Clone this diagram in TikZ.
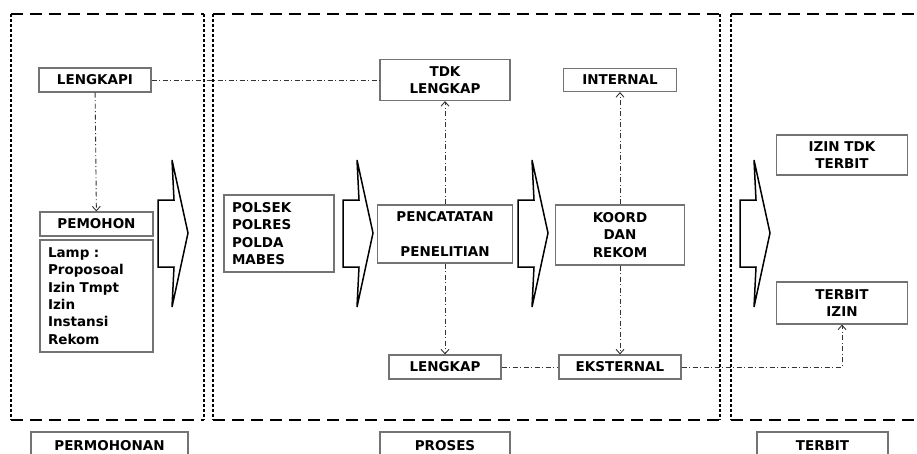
\documentclass[tikz,border=0pt]{standalone}
\usepackage{fontspec}
\setmainfont{DejaVu Sans}
\usetikzlibrary{arrows.meta}

\begin{document}
\begin{tikzpicture}[x=1pt,y=-1pt,
    box/.style={draw=black!55, line width=1.1pt, inner sep=2pt, align=center,
      font=\bfseries\fontsize{13.5}{17.3}\selectfont},
    listbox/.style={box, align=left, inner xsep=8pt},
    flow/.style={draw=black!80, line width=0.9pt, dash pattern=on 5pt off 2.5pt on 1pt off 2.5pt},
    tip/.style={flow, -{Straight Barb[length=4.5pt,width=8pt]}},
    hframe/.style={line width=1.7pt, dash pattern=on 12pt off 7pt},
    vframe/.style={line width=1.7pt, dash pattern=on 3pt off 2pt}]
  \useasboundingbox (0,0) rectangle (917,453);

  % frames
  \draw[hframe] (11,14) -- (204,14)  (11,420) -- (204,420);
  \draw[hframe] (213,14) -- (720,14)  (213,420) -- (720,420);
  \draw[hframe] (731,14) -- (925,14)  (731,420) -- (925,420);
  \foreach \x in {11,204,213,720,731}
    \draw[vframe] (\x,14) -- (\x,420);

  % block arrows
  \foreach \x in {158,343,518,740}
    \draw[line width=1.5pt, line join=miter]
      (\x,200) -- (\x+16,200) -- (\x+14,160) -- (\x+30,233) -- (\x+14,307)
      -- (\x+16,267) -- (\x,267) -- cycle;

  \node (lengkapi) at (95,80) [box, minimum width=112pt, minimum height=24pt] {LENGKAPI};
  \node (pemohon) at (96.5,224) [box, minimum width=113pt, minimum height=24pt] {PEMOHON};
  \node (lamp) at (96.5,296) [listbox, text width=97pt, minimum height=112pt]
    {Lamp :\\Proposoal\\Izin Tmpt\\Izin\\Instansi\\Rekom};
  \node (polsek) at (279,233.5) [listbox, text width=94pt, minimum height=77pt]
    {POLSEK\\POLRES\\POLDA\\MABES};
  \node (tdk) at (445,80) [box, minimum width=130pt, minimum height=41pt] {TDK\\LENGKAP};
  \node (catat) at (445,234) [box, minimum width=135pt, minimum height=58pt]
    {PENCATATAN\\[17.3pt]PENELITIAN};
  \node (lengkap) at (445,367) [box, minimum width=112pt, minimum height=24pt] {LENGKAP};
  \node (internal) at (620,80) [box, minimum width=113pt, minimum height=23pt] {INTERNAL};
  \node (koord) at (620,235) [box, minimum width=129pt, minimum height=60pt] {KOORD\\DAN\\REKOM};
  \node (eksternal) at (620,367) [box, minimum width=122pt, minimum height=24pt] {EKSTERNAL};
  \node (tdkterbit) at (842,155) [box, minimum width=131pt, minimum height=40pt] {IZIN TDK\\TERBIT};
  \node (terbit) at (842,303) [box, minimum width=131pt, minimum height=42pt] {TERBIT\\IZIN};

  % labels below frames
  \node (lblmohon) at (109.5,446) [box, minimum width=157pt, minimum height=28pt] {PERMOHONAN};
  \node (lblproses) at (445,446) [box, minimum width=130pt, minimum height=28pt] {PROSES};
  \node (lblterbit) at (822.5,446) [box, minimum width=131pt, minimum height=28pt] {TERBIT};

  \draw[flow] (lengkapi) -- (tdk);
  \draw[tip] (lengkapi) -- (pemohon);
  \draw[tip] (catat) -- (tdk);
  \draw[tip] (catat) -- (lengkap);
  \draw[tip] (koord) -- (internal);
  \draw[tip] (koord) -- (eksternal);
  \draw[flow] (lengkap) -- (eksternal);
  \draw[tip] (eksternal) -| (terbit);
\end{tikzpicture}
\end{document}
